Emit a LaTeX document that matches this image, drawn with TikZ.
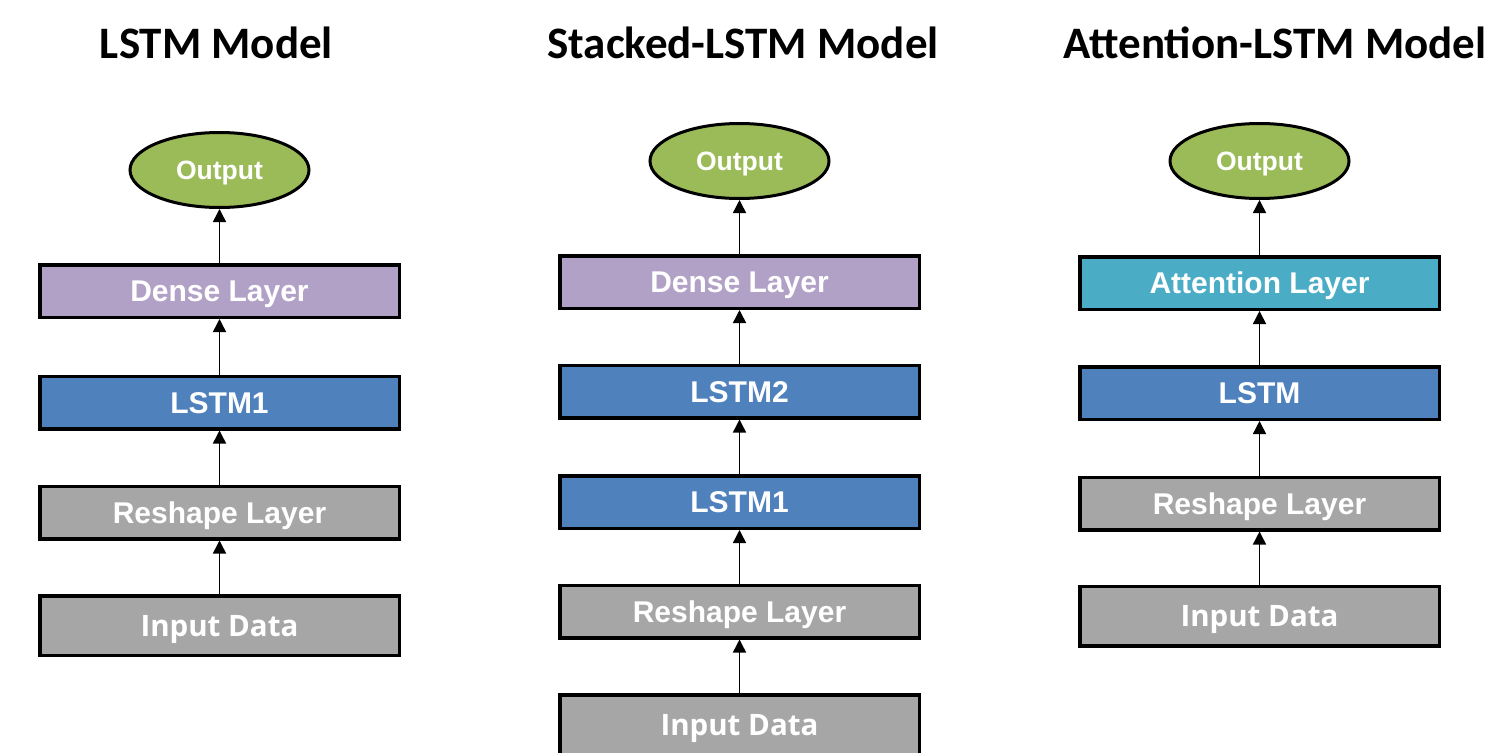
\documentclass[tikz,border=0pt]{standalone}
\usepackage{fontspec}
\setmainfont{Liberation Sans}
\newfontfamily\titlefont{Carlito}
\newfontfamily\inputfont{Open Sans}
\usetikzlibrary{shapes.geometric,arrows.meta}
\definecolor{densecol}{HTML}{B2A1C7}
\definecolor{lstmcol}{HTML}{4F81BD}
\definecolor{graycol}{HTML}{A6A6A6}
\definecolor{outcol}{HTML}{9BBB59}
\definecolor{attcol}{HTML}{4BACC6}
\tikzset{
  layerbox/.style={draw=black, line width=3.5pt, rectangle, minimum width=359.5pt, minimum height=52.5pt, inner sep=0pt, text height=21.5pt, text depth=0pt, text=white, font=\fontsize{30}{36}\selectfont\bfseries},
  inbox/.style={layerbox, minimum height=59.5pt, text height=21pt, font=\inputfont\fontsize{29.5}{36}\selectfont\bfseries},
  outell/.style={draw=black, line width=3pt, ellipse, minimum width=179pt, minimum height=75pt, inner sep=0pt, text height=19pt, text depth=0pt, fill=outcol, text=white, font=\fontsize{26.5}{32}\selectfont\bfseries},
  ttl/.style={anchor=base, inner sep=0pt, font=\titlefont\fontsize{45}{54}\selectfont\bfseries},
  arr/.style={draw=black, line width=1.5pt, -{Triangle[width=13pt,length=13pt]}}
}
\begin{document}
\begin{tikzpicture}[x=1pt,y=-1pt]
\useasboundingbox (0,0) rectangle (1493,752);
% Column 1
\node[ttl] (t1) at (216.5,59) {LSTM Model};
\node[outell] (o1) at (219.5,170) {Output};
\node[layerbox, fill=densecol] (d1) at (219.5,291) {Dense Layer};
\node[layerbox, fill=lstmcol] (l1) at (219.5,402.5) {LSTM1};
\node[layerbox, fill=graycol] (r1) at (219.5,512.5) {Reshape Layer};
\node[inbox, fill=graycol] (i1) at (219.5,625.5) {Input Data};
\draw[arr] (i1.north) -- (r1.south);
\draw[arr] (r1.north) -- (l1.south);
\draw[arr] (l1.north) -- (d1.south);
\draw[arr] (d1.north) -- (o1.south);
% Column 2
\node[ttl] (t2) at (743,59) {Stacked-LSTM Model};
\node[outell] (o2) at (739.5,161) {Output};
\node[layerbox, fill=densecol] (d2) at (739.5,282) {Dense Layer};
\node[layerbox, fill=lstmcol] (m2) at (739.5,391.5) {LSTM2};
\node[layerbox, fill=lstmcol] (l2) at (739.5,502) {LSTM1};
\node[layerbox, fill=graycol] (r2) at (739.5,611.5) {Reshape Layer};
\node[inbox, fill=graycol] (i2) at (739.5,724.5) {Input Data};
\draw[arr] (i2.north) -- (r2.south);
\draw[arr] (r2.north) -- (l2.south);
\draw[arr] (l2.north) -- (m2.south);
\draw[arr] (m2.north) -- (d2.south);
\draw[arr] (d2.north) -- (o2.south);
% Column 3
\node[ttl] (t3) at (1275,59) {Attention-LSTM Model};
\node[outell] (o3) at (1259.5,161) {Output};
\node[layerbox, fill=attcol] (a3) at (1259.5,283) {Attention Layer};
\node[layerbox, fill=lstmcol] (l3) at (1259.5,393) {LSTM};
\node[layerbox, fill=graycol] (r3) at (1259.5,503.5) {Reshape Layer};
\node[inbox, fill=graycol] (i3) at (1259.5,616) {Input Data};
\draw[arr] (i3.north) -- (r3.south);
\draw[arr] (r3.north) -- (l3.south);
\draw[arr] (l3.north) -- (a3.south);
\draw[arr] (a3.north) -- (o3.south);
\end{tikzpicture}
\end{document}
